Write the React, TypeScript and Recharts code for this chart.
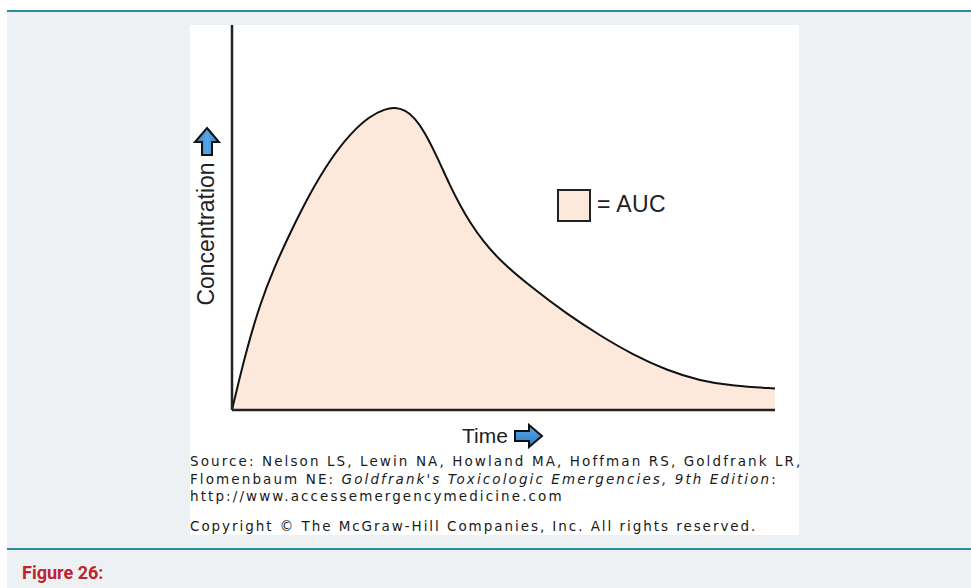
import React from "react";
import { AreaChart, Area, XAxis, YAxis } from "recharts";

// Schematic concentration–time curve (arbitrary units)
const timePoints = [0, 2.4, 5.2, 7.9, 10.7, 14.4, 18.0, 21.7, 25.4, 28.2, 30.0, 31.9, 33.7, 35.5, 37.8, 40.1, 42.0, 43.8, 46.2, 49.4, 55.4, 61.7, 67.8, 73.8, 80.1, 86.2, 92.3, 100];
const concentration = [0, 14.3, 27.8, 37.4, 46.0, 56.4, 64.9, 71.7, 76.4, 78.2, 78.6, 77.9, 75.8, 72.2, 65.7, 58.4, 53.2, 48.8, 43.9, 38.7, 31.6, 24.9, 19.3, 14.4, 10.3, 7.6, 6.2, 5.6];

const data = timePoints.map((t, i) => ({ t, c: concentration[i] }));

const SANS = "'Liberation Sans', Arial, sans-serif";
const VERD = "'DejaVu Sans', Verdana, sans-serif";

const UpArrow = () => (
  <svg width={30} height={32} style={{ position: "absolute", left: 192, top: 126 }}>
    <defs>
      <linearGradient id="ga" x1="0" y1="0" x2="1" y2="0">
        <stop offset="0" stopColor="#2f7fc4" />
        <stop offset="0.5" stopColor="#5aa6e6" />
        <stop offset="1" stopColor="#2f7fc4" />
      </linearGradient>
    </defs>
    <path d="M15 2 L27 16 L20 16 L20 29 L10 29 L10 16 L3 16 Z" fill="url(#ga)" stroke="#111" strokeWidth={2} />
  </svg>
);

const RightArrow = () => (
  <svg width={32} height={26} style={{ position: "absolute", left: 513, top: 423 }}>
    <defs>
      <linearGradient id="gb" x1="0" y1="0" x2="0" y2="1">
        <stop offset="0" stopColor="#5aa6e6" />
        <stop offset="1" stopColor="#2f7fc4" />
      </linearGradient>
    </defs>
    <path d="M29 13 L16 2 L16 8 L2 8 L2 18 L16 18 L16 24 Z" fill="url(#gb)" stroke="#111" strokeWidth={2} />
  </svg>
);

export default function App() {
  return (
    <div style={{ position: "absolute", left: 0, top: 0, width: 971, height: 588, background: "#ffffff", overflow: "hidden" }}>
      <div style={{ position: "absolute", left: 7, top: 12, width: 964, height: 576, background: "#eef1f4" }} />
      <div style={{ position: "absolute", left: 7, top: 10, width: 964, height: 2, background: "#2a8a9e" }} />
      <div style={{ position: "absolute", left: 190, top: 25, width: 609, height: 510, background: "#ffffff" }} />
      <div style={{ position: "absolute", left: 190, top: 25 }}>
        <AreaChart width={609} height={510} data={data} margin={{ top: 0, right: 24, bottom: 124, left: 41 }}>
          <XAxis type="number" dataKey="t" domain={[0, 100]} tick={false} tickLine={false} height={1} axisLine={{ stroke: "#222", strokeWidth: 2.5 }} />
          <YAxis type="number" domain={[0, 100]} tick={false} tickLine={false} width={1} axisLine={{ stroke: "#222", strokeWidth: 2.5 }} />
          <Area type="basis" dataKey="c" stroke="#111" strokeWidth={2} fill="#fde9dc" fillOpacity={1} isAnimationActive={false} dot={false} activeDot={false} />
        </AreaChart>
      </div>
      {/* legend */}
      <div style={{ position: "absolute", left: 557, top: 189, width: 30, height: 29, background: "#fde9dc", border: "2px solid #222" }} />
      <div style={{ position: "absolute", left: 597, top: 189, fontFamily: SANS, fontSize: 23, color: "#222", lineHeight: "30px", whiteSpace: "nowrap", letterSpacing: 0.4 }}>= AUC</div>
      {/* y label */}
      <div style={{ position: "absolute", left: 206, top: 234, transform: "translate(-50%, -50%) rotate(-90deg)", fontFamily: SANS, fontSize: 23, color: "#222", whiteSpace: "nowrap", lineHeight: "26px" }}>Concentration</div>
      <UpArrow />
      {/* x label */}
      <div style={{ position: "absolute", left: 462, top: 422, fontFamily: SANS, fontSize: 21, color: "#222", whiteSpace: "nowrap", lineHeight: "28px" }}>Time</div>
      <RightArrow />
      {/* source */}
      <div style={{ position: "absolute", left: 190, top: 453, fontFamily: VERD, fontSize: 13.5, lineHeight: "17.5px", color: "#1a1a1a", whiteSpace: "nowrap", letterSpacing: 2.1 }}>
        <div>Source: Nelson LS, Lewin NA, Howland MA, Hoffman RS, Goldfrank LR,</div>
        <div>Flomenbaum NE: <i>Goldfrank's Toxicologic Emergencies, 9th Edition</i>:</div>
        <div>http://www.accessemergencymedicine.com</div>
        <div style={{ marginTop: 12, letterSpacing: 1.95 }}>Copyright © The McGraw-Hill Companies, Inc. All rights reserved.</div>
      </div>
      <div style={{ position: "absolute", left: 7, top: 548, width: 964, height: 2, background: "#2a8a9e" }} />
      <div style={{ position: "absolute", left: 22, top: 561, fontFamily: "Roboto, sans-serif", fontWeight: 700, fontSize: 18, color: "#c0222f", lineHeight: "24px" }}>Figure 26:</div>
    </div>
  );
}
